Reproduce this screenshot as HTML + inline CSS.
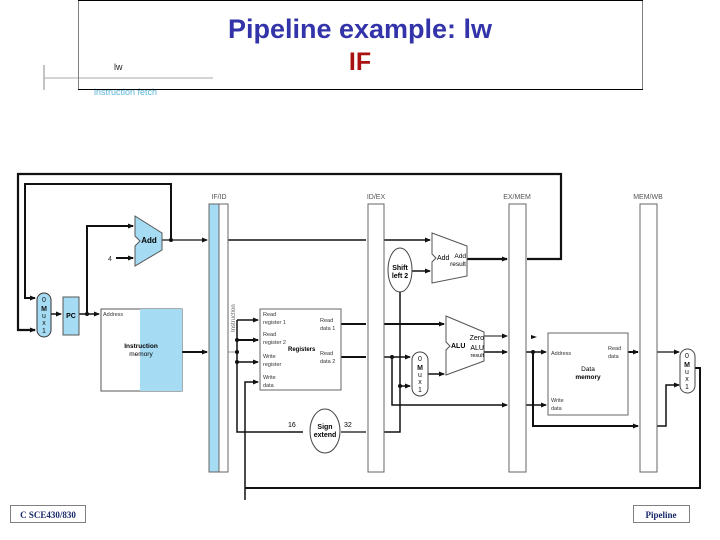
<!DOCTYPE html>
<html><head><style>
body{margin:0;background:#fff;width:720px;height:540px;overflow:hidden}
svg{display:block}
</style></head><body>
<svg width="720" height="540" xmlns="http://www.w3.org/2000/svg" font-family="Liberation Sans, sans-serif">
<defs>
<marker id="a" markerWidth="6" markerHeight="6" refX="5" refY="3" orient="auto" markerUnits="userSpaceOnUse"><path d="M0,0.5 L6,3 L0,5.5z" fill="#111"/></marker>
</defs>
<line x1="44" y1="65" x2="44" y2="90" stroke="#888" stroke-width="1"/>
<line x1="44" y1="78" x2="213" y2="78" stroke="#aaa" stroke-width="1"/>
<text x="114" y="70" font-size="9" fill="#222">lw</text>
<text x="94" y="95" font-size="9" fill="#5ab4d6">instruction fetch</text>
<rect x="78.5" y="0.5" width="564" height="89" fill="none" stroke="#000" stroke-width="1" stroke-dasharray="1,1"/>
<line x1="78" y1="0.5" x2="643" y2="0.5" stroke="#000"/>
<line x1="78" y1="89.5" x2="643" y2="89.5" stroke="#000"/>
<text x="360" y="38" font-size="27" text-anchor="middle" fill="#3333aa" font-weight="bold">Pipeline example: lw</text>
<text x="360" y="70" font-size="25" text-anchor="middle" fill="#aa1111" font-weight="bold">IF</text>

<g stroke="#111" fill="none" stroke-width="2">
<polyline points="527,259 561,259 561,174 18,174 18,330 35,330" marker-end="url(#a)" stroke-width="2.2"/>
<polyline points="171,240 171,184 25,184 25,298 35,298" marker-end="url(#a)"/>
<polyline points="79,314 99,314" marker-end="url(#a)" stroke-width="1.5"/>
<polyline points="87,314 87,226 133,226" marker-end="url(#a)"/>
<polyline points="116,258 133,258" marker-end="url(#a)"/>
<polyline points="51,314 61,314" marker-end="url(#a)" stroke-width="1.5"/>
<polyline points="162,240 207,240" marker-end="url(#a)" stroke-width="1.2"/>
<polyline points="182,352 207,352" marker-end="url(#a)"/>
<line x1="228" y1="240" x2="366" y2="240" stroke-width="1.5"/>
<line x1="228" y1="352" x2="237" y2="352" stroke-width="1" stroke="#999"/>
<polyline points="237,320 237,432 303,432" stroke-width="1.5"/>
<polyline points="237,320 258,320" marker-end="url(#a)" stroke-width="1.5"/>
<polyline points="237,340 258,340" marker-end="url(#a)"/>
<polyline points="237,362 258,362" marker-end="url(#a)" stroke-width="1.5"/>
<polyline points="245,500 245,382 258,382" marker-end="url(#a)" stroke-width="1.5"/>
<polyline points="245,488 700,488 700,368 695,368" stroke-width="2"/>
<line x1="341" y1="324" x2="366" y2="324"/>
<line x1="341" y1="357" x2="366" y2="357"/>
<line x1="341" y1="432" x2="366" y2="432" stroke-width="1.2"/>
<polyline points="384,240 430,240" marker-end="url(#a)" stroke-width="1.5"/>
<polyline points="412,271 430,271" marker-end="url(#a)" stroke-width="1.5"/>
<polyline points="467,259 507,259" marker-end="url(#a)" stroke-width="2.2"/>
<polyline points="384,432 400,432 400,292" stroke-width="1.5"/>
<polyline points="384,324 444,324" marker-end="url(#a)"/>
<polyline points="384,357 410,357" marker-end="url(#a)" stroke-width="1.5"/>
<polyline points="392,357 392,405 507,405" marker-end="url(#a)" stroke-width="1.5"/>
<polyline points="400,386 410,386" marker-end="url(#a)" stroke-width="1.5"/>
<polyline points="428,374 444,374" marker-end="url(#a)" stroke-width="1.5"/>
<polyline points="482,336 507,336" marker-end="url(#a)" stroke-width="1"/>
<polyline points="482,352 507,352" marker-end="url(#a)" stroke-width="1.5"/>
<polyline points="526,352 546,352" marker-end="url(#a)" stroke-width="1.5"/>
<polyline points="533,352 533,426 638,426" marker-end="url(#a)" stroke-width="2"/>
<polyline points="526,405 546,405" marker-end="url(#a)" stroke-width="1.5"/>
<polyline points="628,352 638,352" marker-end="url(#a)" stroke-width="2"/>
<polyline points="657,352 679,352" marker-end="url(#a)" stroke-width="1.2"/>
<polyline points="657,426 666,426 666,385 679,385" marker-end="url(#a)" stroke-width="1.5"/>
</g>
<path d="M531,335 L537,337 L531,339z" fill="#111"/>
<g fill="#111">
<circle cx="171" cy="240" r="2"/><circle cx="87" cy="314" r="2"/>
<circle cx="237" cy="340" r="2"/><circle cx="237" cy="352" r="2"/><circle cx="237" cy="362" r="2"/>
<circle cx="392" cy="357" r="2"/><circle cx="400" cy="386" r="2"/><circle cx="533" cy="352" r="2"/>
</g>

<rect x="209" y="204" width="19" height="268" fill="#fff" stroke="#666"/>
<rect x="209" y="204" width="10" height="268" fill="#a6dcf3" stroke="#666"/>
<rect x="368" y="204" width="16" height="268" fill="#fff" stroke="#666"/>
<rect x="509" y="204" width="17" height="268" fill="#fff" stroke="#666"/>
<rect x="640" y="204" width="17" height="268" fill="#fff" stroke="#666"/>
<g font-size="7" fill="#555" text-anchor="middle">
<text x="219" y="199">IF/ID</text><text x="376" y="199">ID/EX</text><text x="517" y="199">EX/MEM</text><text x="648" y="199">MEM/WB</text>
</g>
<text transform="translate(235,332) rotate(-90)" font-size="6" fill="#666">Instruction</text>

<rect x="37" y="293" width="14" height="44" rx="7" fill="#a6dcf3" stroke="#333"/>
<g font-size="7" fill="#111" text-anchor="middle"><text x="44" y="302">0</text><text x="44" y="311" font-weight="bold">M</text><text x="44" y="318">u</text><text x="44" y="325">x</text><text x="44" y="333">1</text></g>
<rect x="63" y="297" width="16" height="38" fill="#a6dcf3" stroke="#555"/>
<text x="71" y="318" font-size="7" font-weight="bold" text-anchor="middle">PC</text>
<path d="M135,216 L162,233 L162,250 L135,266 L135,246 L140,241 L135,236z" fill="#a6dcf3" stroke="#555"/>
<text x="149" y="243" font-size="8" font-weight="bold" text-anchor="middle">Add</text>
<text x="108" y="261" font-size="7" fill="#333">4</text>
<rect x="101" y="309" width="81" height="82" fill="#fff" stroke="#555"/>
<rect x="140" y="309" width="42" height="82" fill="#a6dcf3"/>
<text x="103" y="316" font-size="5.5" fill="#333">Address</text>
<text x="141" y="348" font-size="6.5" text-anchor="middle" font-weight="bold">Instruction</text>
<text x="141" y="356" font-size="6.5" text-anchor="middle">memory</text>

<rect x="260" y="309" width="81" height="81" fill="#fff" stroke="#666"/>
<g font-size="5.5" fill="#333">
<text x="263" y="316">Read</text><text x="263" y="324">register 1</text>
<text x="263" y="336">Read</text><text x="263" y="344">register 2</text>
<text x="263" y="358">Write</text><text x="263" y="366">register</text>
<text x="263" y="379">Write</text><text x="263" y="387">data</text>
<text x="320" y="322">Read</text><text x="320" y="330">data 1</text>
<text x="320" y="355">Read</text><text x="320" y="363">data 2</text>
</g>
<text x="288" y="351" font-size="6" font-weight="bold">Registers</text>
<ellipse cx="325" cy="431" rx="15" ry="22" fill="#fff" stroke="#444"/>
<text x="325" y="429" font-size="7" text-anchor="middle" font-weight="bold">Sign</text>
<text x="325" y="437" font-size="7" text-anchor="middle" font-weight="bold">extend</text>
<text x="288" y="427" font-size="7">16</text><text x="344" y="427" font-size="7">32</text>

<ellipse cx="400" cy="270" rx="12" ry="22" fill="#fff" stroke="#444"/>
<text x="400" y="270" font-size="7" text-anchor="middle" font-weight="bold">Shift</text>
<text x="400" y="278" font-size="7" text-anchor="middle" font-weight="bold">left 2</text>
<path d="M432,233 L467,246 L467,276 L432,283 L432,262 L436,258 L432,254z" fill="#fff" stroke="#555"/>
<text x="437" y="260" font-size="7">Add</text>
<text x="466" y="258" font-size="6.5" text-anchor="end">Add</text><text x="466" y="266" font-size="6.5" text-anchor="end">result</text>
<path d="M446,316 L484,332 L484,361 L446,375 L446,350 L450,346 L446,342z" fill="#fff" stroke="#555"/>
<text x="451" y="348" font-size="7" font-weight="bold">ALU</text>
<text x="484" y="340" font-size="7" text-anchor="end">Zero</text>
<text x="484" y="350" font-size="7" text-anchor="end">ALU</text>
<text x="484" y="357" font-size="5.5" text-anchor="end">result</text>
<rect x="412" y="352" width="16" height="44" rx="8" fill="#fff" stroke="#444"/>
<g font-size="7" fill="#111" text-anchor="middle"><text x="420" y="361">0</text><text x="420" y="370" font-weight="bold">M</text><text x="420" y="377">u</text><text x="420" y="384">x</text><text x="420" y="392">1</text></g>

<rect x="548" y="333" width="80" height="82" fill="#fff" stroke="#666"/>
<g font-size="5.5" fill="#333"><text x="551" y="355">Address</text><text x="608" y="350">Read</text><text x="608" y="358">data</text><text x="551" y="402">Write</text><text x="551" y="410">data</text></g>
<text x="588" y="371" font-size="6.5" text-anchor="middle">Data</text>
<text x="588" y="379" font-size="6.5" text-anchor="middle" font-weight="bold">memory</text>
<rect x="680" y="349" width="15" height="44" rx="7.5" fill="#fff" stroke="#444"/>
<g font-size="7" fill="#111" text-anchor="middle"><text x="687" y="358">0</text><text x="687" y="367" font-weight="bold">M</text><text x="687" y="374">u</text><text x="687" y="381">x</text><text x="687" y="389">1</text></g>

<rect x="10.5" y="505.5" width="75" height="17" fill="none" stroke="#000" stroke-dasharray="1,1"/>
<text x="48" y="518" font-family="Liberation Serif, serif" font-size="9" font-weight="bold" fill="#1a2a6a" text-anchor="middle">C SCE430/830</text>
<rect x="633.5" y="505.5" width="56" height="17" fill="none" stroke="#000" stroke-dasharray="1,1"/>
<text x="661" y="518" font-family="Liberation Serif, serif" font-size="9" font-weight="bold" fill="#1a2a6a" text-anchor="middle">Pipeline</text>
</svg>
</body></html>
